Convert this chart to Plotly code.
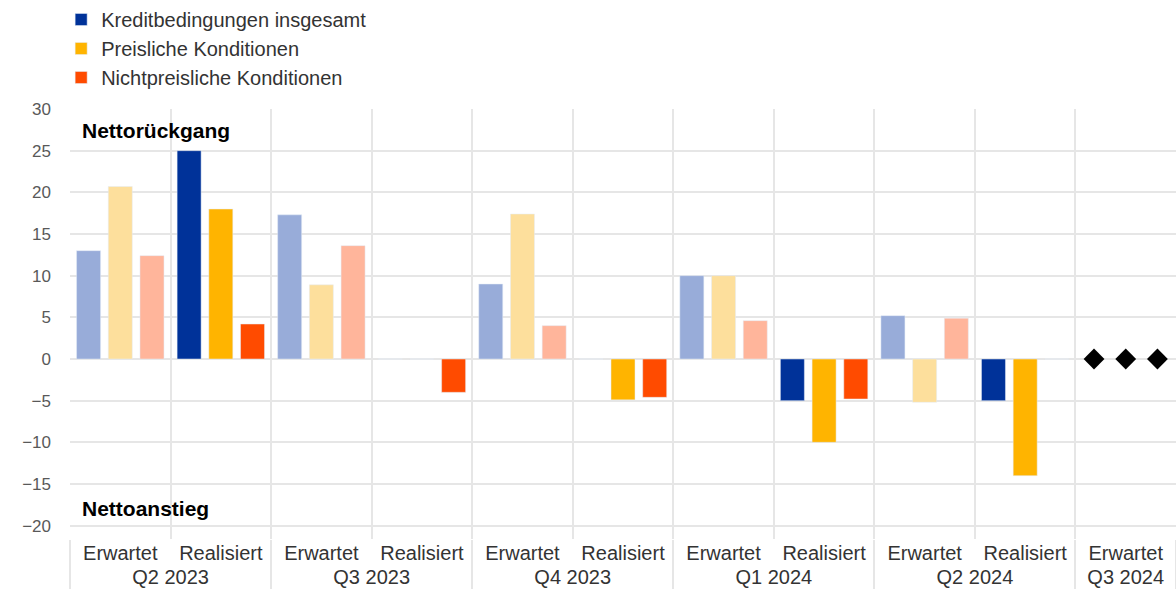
import plotly.graph_objects as go

# Survey rounds (outer level) and expectation/realisation (inner level)
quarters = ["Q2 2023", "Q2 2023", "Q3 2023", "Q3 2023", "Q4 2023", "Q4 2023",
            "Q1 2024", "Q1 2024", "Q2 2024", "Q2 2024", "Q3 2024"]
phases = ["Erwartet", "Realisiert", "Erwartet", "Realisiert", "Erwartet", "Realisiert",
          "Erwartet", "Realisiert", "Erwartet", "Realisiert", "Erwartet"]

# Net percentages (positive = net easing, negative = net tightening)
kredit_gesamt = [13.0, 25.0, 17.3, 0.0, 9.0, 0.0, 10.0, -5.0, 5.2, -5.0, None]
preisliche = [20.7, 18.0, 8.9, 0.0, 17.4, -4.9, 10.0, -10.0, -5.2, -14.0, None]
nichtpreisliche = [12.4, 4.2, 13.6, -4.0, 4.0, -4.6, 4.6, -4.8, 4.9, 0.0, None]

# Outlook for Q3 2024 (shown as markers)
ausblick_q3_2024 = [0.0, 0.0, 0.0]

series_names = ["Kreditbedingungen insgesamt", "Preisliche Konditionen", "Nichtpreisliche Konditionen"]
series_values = [kredit_gesamt, preisliche, nichtpreisliche]
dark_colors = ["#003299", "#ffb400", "#ff4b00"]
light_colors = ["#98acd9", "#fddf9c", "#ffb59b"]

FONT = "Liberation Sans, Arial, sans-serif"

fig = go.Figure()
x_multi = [quarters, phases]

for name, vals, dark, light in zip(series_names, series_values, dark_colors, light_colors):
    erw = [v if p == "Erwartet" else None for v, p in zip(vals, phases)]
    real = [v if p == "Realisiert" else None for v, p in zip(vals, phases)]
    fig.add_trace(go.Bar(x=x_multi, y=real, name=name, marker_color=dark,
                         offsetgroup=name, showlegend=True))
    fig.add_trace(go.Bar(x=x_multi, y=erw, name=name, marker_color=light,
                         offsetgroup=name, showlegend=False))

for name, val in zip(series_names, ausblick_q3_2024):
    y = [None] * (len(quarters) - 1) + [val]
    fig.add_trace(go.Scatter(x=x_multi, y=y, mode="markers", offsetgroup=name,
                             marker=dict(symbol="diamond", size=16, color="black"),
                             showlegend=False))

fig.add_annotation(text="<b>Nettorückgang</b>", xref="paper", yref="y", x=0.009, y=27.4,
                   xanchor="left", yanchor="middle", showarrow=False,
                   font=dict(family=FONT, size=21, color="#000000"))
fig.add_annotation(text="<b>Nettoanstieg</b>", xref="paper", yref="y", x=0.009, y=-17.9,
                   xanchor="left", yanchor="middle", showarrow=False,
                   font=dict(family=FONT, size=21, color="#000000"))

fig.update_layout(
    width=1176, height=609,
    margin=dict(l=70, r=0, t=109, b=70),
    paper_bgcolor="white", plot_bgcolor="white",
    barmode="group", bargap=0.054, bargroupgap=0.243,
    scattermode="group", scattergap=0.054,
    font=dict(family=FONT, color="#333333"),
    legend=dict(x=-0.008, y=1.2535, xanchor="left", yanchor="top",
                font=dict(family=FONT, size=20, color="#333333"),
                traceorder="normal", itemwidth=30, tracegroupgap=0,
                bgcolor="rgba(0,0,0,0)"),
)

fig.update_xaxes(
    type="multicategory", tickson="boundaries", showgrid=True, gridcolor="#e6e6e6",
    gridwidth=1.5, showdividers=True, dividercolor="#e6e6e6", dividerwidth=1.5,
    ticks="", showline=False,
    tickfont=dict(family=FONT, size=20, color="#333333"),
)
fig.update_yaxes(
    range=[-21.6, 30], tick0=0, dtick=5, showgrid=True, gridcolor="#e6e6e6", gridwidth=1.5,
    zeroline=False, showline=False, ticks="", ticklabelstandoff=18,
    tickfont=dict(family=FONT, size=17, color="#595959"),
)

fig.write_html("out.html")
